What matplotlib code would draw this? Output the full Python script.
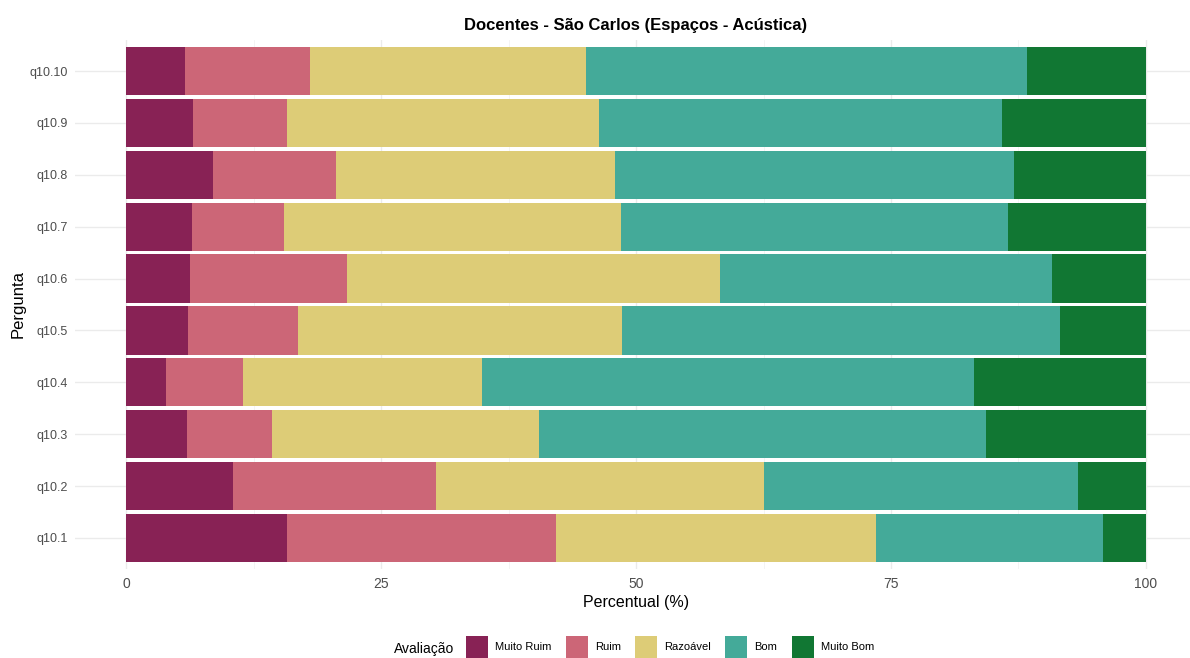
import matplotlib.pyplot as plt
from matplotlib.patches import Patch
import numpy as np

plt.rcParams['font.family'] = ['Liberation Sans', 'DejaVu Sans']

# perguntas (de baixo para cima no grafico)
perguntas = ['q10.1', 'q10.2', 'q10.3', 'q10.4', 'q10.5',
             'q10.6', 'q10.7', 'q10.8', 'q10.9', 'q10.10']
categorias = ['Muito Ruim', 'Ruim', 'Razoável', 'Bom', 'Muito Bom']
cores = ['#882255', '#CC6677', '#DDCC77', '#44AA99', '#117733']

# percentuais
muito_ruim = [15.8, 10.5, 6.0, 3.9, 6.1, 6.3, 6.5, 8.5, 6.6, 5.8]
ruim = [26.4, 19.9, 8.3, 7.6, 10.8, 15.4, 9.0, 12.1, 9.2, 12.2]
razoavel = [31.3, 32.1, 26.2, 23.4, 31.7, 36.5, 33.0, 27.3, 30.6, 27.1]
bom = [22.3, 30.8, 43.8, 48.2, 43.0, 32.6, 38.0, 39.2, 39.5, 43.2]
muito_bom = [4.2, 6.7, 15.7, 16.9, 8.4, 9.2, 13.5, 12.9, 14.1, 11.7]

series = [muito_ruim, ruim, razoavel, bom, muito_bom]

W, H = 1190, 658
fig = plt.figure(figsize=(W / 100, H / 100), dpi=100)
ax = fig.add_axes([75 / W, 1 - 569 / H, 1122 / W, 529 / H])

y = np.arange(1, len(perguntas) + 1)
left = np.zeros(len(perguntas))
for vals, cat, cor in zip(series, categorias, cores):
    vals = np.array(vals)
    ax.barh(y, vals, left=left, height=0.93, color=cor, label=cat, zorder=2)
    left += vals

ax.set_xlim(-5, 105)
ax.set_ylim(0.4, len(perguntas) + 0.6)
ax.set_yticks(y)
ax.set_yticklabels(perguntas)
ax.set_xticks([0, 25, 50, 75, 100])
ax.set_xticklabels(['0', '25', '50', '75', '100'])
ax.set_xticks([12.5, 37.5, 62.5, 87.5], minor=True)
ax.grid(True, which='major', color='#EBEBEB', linewidth=1.0, zorder=0)
ax.grid(True, which='minor', axis='x', color='#F3F3F3', linewidth=0.6, zorder=0)
ax.tick_params(axis='both', which='both', length=0, labelcolor='#4D4D4D')
ax.tick_params(axis='y', pad=5, labelsize=9)
ax.tick_params(axis='x', pad=6, labelsize=10)
for s in ax.spines.values():
    s.set_visible(False)

ax.set_xlabel('Percentual (%)', fontsize=11.5, labelpad=3)
ax.set_ylabel('Pergunta', fontsize=12, labelpad=3)
ax.set_title('Docentes - São Carlos (Espaços - Acústica)', fontsize=12,
             fontweight='bold', pad=7)

handles = [Patch(facecolor=c, edgecolor='none') for c in cores]
fig.text(394 / W, 1 - 649 / H, 'Avaliação', fontsize=10, va='center', ha='left')
fig.legend(handles, categorias, loc='center left', bbox_to_anchor=(466 / W, 1 - 647 / H),
           ncol=5, frameon=False, fontsize=8, handlelength=1.98, handleheight=2.67,
           handletextpad=0.63, columnspacing=1.3, borderaxespad=0, borderpad=0)

fig.savefig('out.png', dpi=100)
